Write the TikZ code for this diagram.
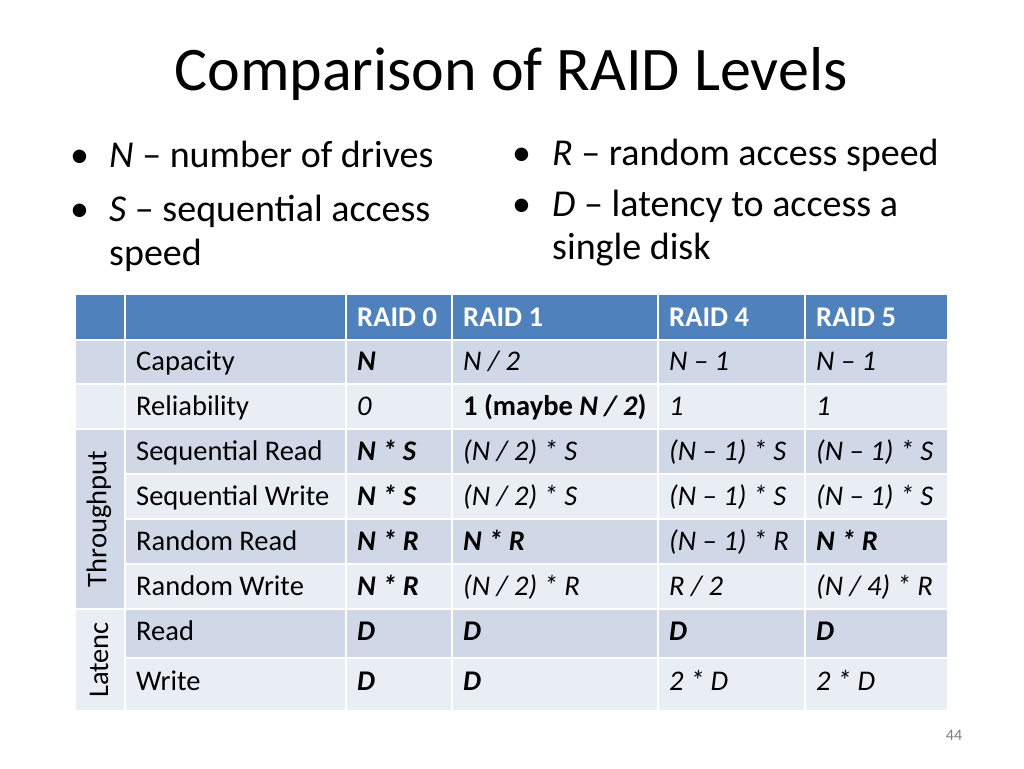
\documentclass[tikz,border=0pt]{standalone}
\usepackage{fontspec}
\setmainfont{Carlito}
\begin{document}
\begin{tikzpicture}[x=1pt,y=-1pt,
  hd/.style={fill=hdblue,draw=white,line width=2pt},
  dk/.style={fill=rowdark,draw=white,line width=2pt},
  lt/.style={fill=rowlight,draw=white,line width=2pt},
  tx/.style={anchor=base west,font=\fontsize{28.5}{32}\selectfont,inner sep=0pt},
  hx/.style={tx,text=white,font=\fontsize{28.5}{32}\selectfont\bfseries},
  bu/.style={anchor=base west,font=\fontsize{38}{44}\selectfont,inner sep=0pt},
  bl/.style={anchor=base west,font=\fontsize{38}{44}\selectfont,inner sep=0pt,align=left}]
\definecolor{hdblue}{HTML}{4F81BD}
\definecolor{rowdark}{HTML}{D0D8E8}
\definecolor{rowlight}{HTML}{E9EDF4}
\useasboundingbox (0,0) rectangle (1024,768);
\fill[white] (0,0) rectangle (1024,768);
\node[font=\fontsize{62}{70}\selectfont,anchor=base] (title) at (511,90) {Comparison of RAID Levels};
% bullets
\node[bu] (d1) at (70,167) {•};
\node[bl] (b1) at (109,167) {\textit{N} – number of drives};
\node[bu] (d2) at (70,221) {•};
\node[bl] (b2) at (109,221) {\textit{S} – sequential access};
\node[bl] (b2b) at (109,265) {speed};
\node[bu] (d3) at (512,165) {•};
\node[bl] (b3) at (552,165) {\textit{R} – random access speed};
\node[bu] (d4) at (512,216) {•};
\node[bl] (b4) at (552,216) {\textit{D} – latency to access a};
\node[bl] (b4b) at (552,259) {single disk};
% table backgrounds
\foreach \a/\b in {75/125,125/346,346/452,452/658,658/805,805/948}
  \path[hd] (\a,294) rectangle (\b,340);
\foreach \ya/\yb/\s in {340/384/dk,384/429/lt,429/474/dk,474/519/lt,519/564/dk,564/609/lt,609/658/dk,658/711/lt}{
  \foreach \a/\b in {125/346,346/452,452/658,658/805,805/948}
    \path[\s] (\a,\ya) rectangle (\b,\yb);}
\path[dk] (75,340) rectangle (125,384);
\path[lt] (75,384) rectangle (125,429);
\path[dk] (75,429) rectangle (125,609);
\path[lt] (75,609) rectangle (125,711);
\node[rotate=90,font=\fontsize{28.5}{32}\selectfont] (thr) at (99,519) {Throughput};
\node[rotate=90,font=\fontsize{28.5}{32}\selectfont] (lat) at (99,660) {Latenc};
% header
\node[hx] (h0) at (357,326) {RAID 0};
\node[hx] (h1) at (463,326) {RAID 1};
\node[hx] (h4) at (669,326) {RAID 4};
\node[hx] (h5) at (816,326) {RAID 5};
% rows
\foreach \y/\n/\l/\p/\q/\r/\s in {
 370/cap/Capacity/\textbf{\textit{N}}/\textit{N / 2}/\textit{N – 1}/\textit{N – 1},
 415/rel/Reliability/\textit{0}/\textbf{1 (maybe \textit{N / 2})}/\textit{1}/\textit{1},
 460/sr/Sequential Read/\textbf{\textit{N * S}}/\textit{(N / 2) * S}/\textit{(N – 1) * S}/\textit{(N – 1) * S},
 505/sw/Sequential Write/\textbf{\textit{N * S}}/\textit{(N / 2) * S}/\textit{(N – 1) * S}/\textit{(N – 1) * S},
 550/rr/Random Read/\textbf{\textit{N * R}}/\textbf{\textit{N * R}}/\textit{(N – 1) * R}/\textbf{\textit{N * R}},
 595/rw/Random Write/\textbf{\textit{N * R}}/\textit{(N / 2) * R}/\textit{R / 2}/\textit{(N / 4) * R},
 640/rd/Read/\textbf{\textit{D}}/\textbf{\textit{D}}/\textbf{\textit{D}}/\textbf{\textit{D}},
 690/wr/Write/\textbf{\textit{D}}/\textbf{\textit{D}}/\textit{2 * D}/\textit{2 * D}}{
  \node[tx] (\n-l) at (136,\y) {\l};
  \node[tx] (\n-0) at (357,\y) {\p};
  \node[tx] (\n-1) at (463,\y) {\q};
  \node[tx] (\n-4) at (669,\y) {\r};
  \node[tx] (\n-5) at (816,\y) {\s};
}
\node[text=gray,font=\fontsize{16}{18}\selectfont] (pg) at (954,735) {44};
\end{tikzpicture}
\end{document}
